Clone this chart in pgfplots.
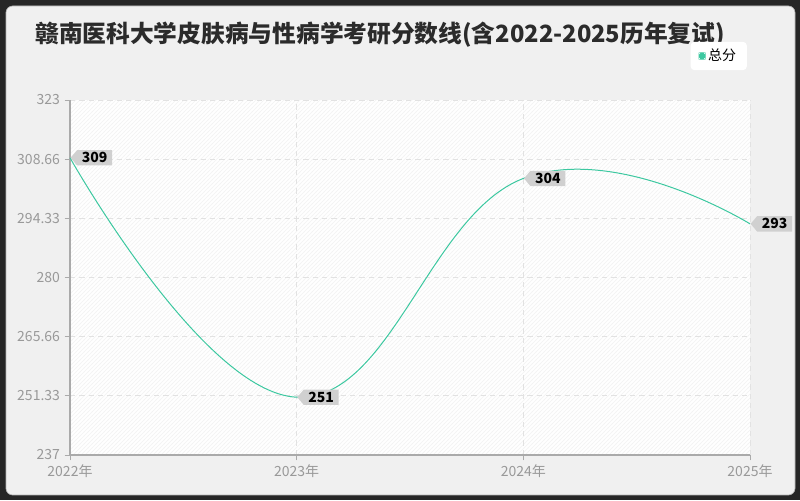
\documentclass[border=0pt]{standalone}
\usepackage{fontspec}
\setmainfont{Noto Sans CJK SC}
\usepackage{pgfplots}
\pgfplotsset{compat=1.18}
\usetikzlibrary{patterns,shapes.symbols}

\definecolor{panelbg}{HTML}{F0F0F0}
\definecolor{titlec}{HTML}{2B2B2B}
\definecolor{tickc}{HTML}{999999}
\definecolor{axisc}{HTML}{AAAAAA}
\definecolor{gridc}{HTML}{E2E2E2}
\definecolor{lineg}{HTML}{3CC8A0}
\definecolor{labelbg}{HTML}{D0D0D0}

\begin{document}
\begin{tikzpicture}[x=0.75pt,y=0.75pt]
% frame and panel
\fill[black!85] (0,0) rectangle (800,500);
\filldraw[fill=panelbg, draw=gray!60, line width=0.5pt, rounded corners=5pt] (6,5) rectangle (795,494);
\node[anchor=base west, inner sep=0, text=titlec,
      font=\bfseries\fontsize{17.8}{20}\selectfont] at (35,457)
  {赣南医科大学皮肤病与性病学考研分数线(含2022-2025历年复试)};

\begin{axis}[
    at={(52.5pt,33.75pt)}, anchor=south west,
    scale only axis, width=510pt, height=266.25pt,
    xmin=2022, xmax=2025, ymin=237, ymax=323,
    xtick={2022,2023,2024,2025},
    xticklabels={2022年,2023年,2024年,2025年},
    ytick={237,251.33,265.66,280,294.33,308.66,323},
    yticklabels={237,251.33,265.66,280,294.33,308.66,323},
    axis x line*=bottom, axis y line*=left,
    axis line style={axisc, line width=0.8pt},
    tick align=outside, major tick length=4pt,
    tick style={axisc, line width=0.6pt},
    ticklabel style={text=tickc, font=\fontsize{10.5}{12}\selectfont},
    /pgf/number format/assume math mode=true,
    grid=major,
    major grid style={gridc, dashed, dash pattern=on 4pt off 3pt, line width=0.6pt},
    axis background/.style={fill=white, postaction={pattern=north east lines, pattern color=black!5}},
    clip=false,
    legend style={at={(0.954,1.124)}, anchor=center, fill=white, draw=none,
                  rounded corners=3pt, font=\fontsize{10.5}{12}\selectfont,
                  inner xsep=6pt, inner ysep=3.5pt},
    legend image code/.code={\fill[lineg] (1pt,-2.4pt) rectangle (5.5pt,2.4pt);},
  ]
\addplot[lineg, line width=0.75pt, smooth, tension=0.75,
    nodes near coords,
    every node near coord/.style={shape=signal, signal to=west, signal pointer angle=100,
        fill=labelbg, anchor=west, inner xsep=3.5pt, inner ysep=1.8pt,
        text=black, font=\bfseries\fontsize{10.5}{11}\selectfont},
  ] coordinates {
    (2022,309)
    (2023,251)
    (2024,304)
    (2025,293)
  };
\legend{总分}
\end{axis}
\end{tikzpicture}
\end{document}
